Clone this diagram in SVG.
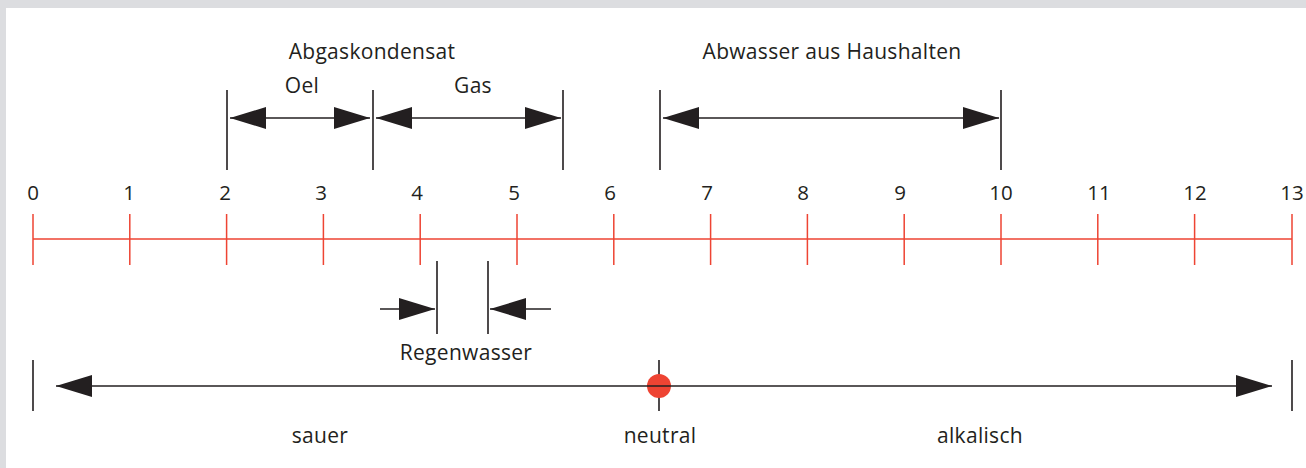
<svg xmlns="http://www.w3.org/2000/svg" width="1306" height="468" viewBox="0 0 1306 468">
<style>
text{font-family:"Open Sans","Noto Sans","Liberation Sans",sans-serif;font-size:21px;letter-spacing:0.3px;fill:#231f20;text-anchor:middle}
text.n{font-size:20.5px;letter-spacing:0}
.k{stroke:#231f20;stroke-width:1.6;fill:none}
.r{stroke:#ee4433;stroke-width:1.5;fill:none}
</style>
<defs>
<marker id="ah" viewBox="0 0 36 24" refX="36" refY="12" markerWidth="36" markerHeight="24" markerUnits="userSpaceOnUse" orient="auto-start-reverse">
<path d="M0,1 L36,12 L0,23 Z" fill="#231f20"/>
</marker>
</defs>
<rect x="0" y="0" width="1306" height="468" fill="#dcdde0"/>
<rect x="6" y="8" width="1300" height="460" fill="#ffffff"/>
<g id="scale">
<path class="r" d="M33,239 H1292 M33,214 V265 M129.8,214 V265 M226.6,214 V265 M323.4,214 V265 M420.2,214 V265 M517,214 V265 M613.8,214 V265 M710.6,214 V265 M807.4,214 V265 M904.2,214 V265 M1001,214 V265 M1097.8,214 V265 M1194.6,214 V265 M1292,214 V265"/>
<text class="n" x="33" y="200">0</text><text class="n" x="129" y="200">1</text><text class="n" x="225" y="200">2</text><text class="n" x="321" y="200">3</text><text class="n" x="417" y="200">4</text><text class="n" x="514" y="200">5</text><text class="n" x="610" y="200">6</text><text class="n" x="707" y="200">7</text><text class="n" x="803" y="200">8</text><text class="n" x="900" y="200">9</text><text class="n" x="1001" y="200">10</text><text class="n" x="1099" y="200">11</text><text class="n" x="1195" y="200">12</text><text class="n" x="1292" y="200">13</text>
</g>
<g id="abgas">
<text x="372" y="59">Abgaskondensat</text>
<text x="302" y="93">Oel</text>
<text x="473" y="93">Gas</text>
<path class="k" d="M227,90 V170 M373,90 V170 M563,90 V170"/>
</g>
<g id="abwasser">
<text x="832" y="59">Abwasser aus Haushalten</text>
<path class="k" d="M660,90 V170 M1001,90 V170"/>
</g>
<g id="regen">
<path class="k" d="M437,261 V334 M488,261 V334"/>
<text x="466" y="360">Regenwasser</text>
</g>
<g id="bottom">
<path class="k" d="M33,360 V411 M1292,360 V411 M659,360 V411"/>
<circle cx="659" cy="386" r="12" fill="#ee4433"/>
<text x="320" y="443">sauer</text>
<text x="660" y="443">neutral</text>
<text x="980" y="443">alkalisch</text>
</g>
<g id="connectors">
<line class="k" x1="230" y1="118" x2="370" y2="118" marker-start="url(#ah)" marker-end="url(#ah)"/>
<line class="k" x1="376" y1="118" x2="561" y2="118" marker-start="url(#ah)" marker-end="url(#ah)"/>
<line class="k" x1="663" y1="118" x2="999" y2="118" marker-start="url(#ah)" marker-end="url(#ah)"/>
<line class="k" x1="380" y1="309" x2="435" y2="309" marker-end="url(#ah)"/>
<line class="k" x1="551" y1="309" x2="490" y2="309" marker-end="url(#ah)"/>
<line class="k" x1="56" y1="386" x2="1272" y2="386" marker-start="url(#ah)" marker-end="url(#ah)"/>
</g>
</svg>
